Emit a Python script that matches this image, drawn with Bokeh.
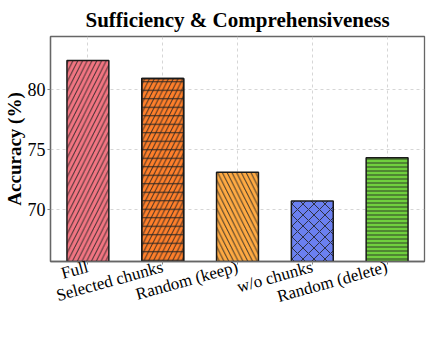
from bokeh.plotting import figure
from bokeh.models import ColumnDataSource, Range1d, FactorRange
from bokeh.embed import file_html
from bokeh.resources import INLINE

categories = ["Full", "Selected chunks", "Random (keep)", "w/o chunks", "Random (delete)"]
accuracy = [82.4, 80.9, 73.1, 70.7, 74.3]
colors = ["#F27582", "#FF7F2A", "#FFAA42", "#6B80F0", "#70CF3E"]
hatches = ["/", "/", "\\", "x", "-"]
hatch_scales = [9.5, 9.5, 9.5, 11, 4]
y_ticks = [70, 75, 80]

FONT = "Liberation Serif"

src = ColumnDataSource(dict(cat=categories, acc=accuracy, color=colors,
                            hatch=hatches, hscale=hatch_scales))
# extra horizontal-line overlay for "Selected chunks" (/ plus -)
src2 = ColumnDataSource(dict(cat=[categories[1]], acc=[accuracy[1]]))

p = figure(x_range=FactorRange(*categories, range_padding=0),
           y_range=Range1d(65.67, 84.4),
           width=428, height=337, output_backend="svg", toolbar_location=None,
           title="Sufficiency & Comprehensiveness",
           min_border_left=0, min_border_right=4, min_border_top=29, min_border_bottom=76)

p.vbar(x="cat", top="acc", bottom=60, width=0.56, source=src,
       fill_color="color", line_color="#1a1a1a", line_width=1.5,
       hatch_pattern="hatch", hatch_scale="hscale", hatch_color="#222222",
       hatch_alpha=0.85, hatch_weight=1)
p.vbar(x="cat", top="acc", bottom=60, width=0.56, source=src2,
       fill_color=None, line_color="#1a1a1a", line_width=1.5,
       hatch_pattern="-", hatch_scale=8.5, hatch_color="#222222",
       hatch_alpha=0.85, hatch_weight=1.2)

p.title.text_font = FONT
p.title.text_font_size = "21px"
p.title.text_font_style = "bold"
p.title.align = "center"
p.title.text_color = "#000000"

p.yaxis.ticker = y_ticks
p.yaxis.axis_label = "Accuracy (%)"
p.yaxis.axis_label_text_font = FONT
p.yaxis.axis_label_text_font_size = "19px"
p.yaxis.axis_label_text_font_style = "bold"
p.yaxis.axis_label_text_color = "#000000"
p.yaxis.axis_label_standoff = 0
for ax in (p.xaxis, p.yaxis):
    ax.major_label_text_font = FONT
    ax.major_label_text_font_size = "17px"
    ax.major_label_text_color = "#000000"
    ax.axis_line_color = "#666666"
    ax.axis_line_width = 1.3
    ax.major_tick_line_color = "#888888"
    ax.major_tick_in = 0
    ax.major_tick_out = 3
    ax.minor_tick_line_color = None
    ax.major_label_standoff = 2
p.yaxis.major_label_text_font_size = "18px"
p.xaxis.major_label_orientation = 0.27

p.outline_line_color = "#666666"
p.outline_line_width = 1.3
p.grid.grid_line_color = "#cccccc"
p.grid.grid_line_dash = "3 3"
p.grid.grid_line_width = 0.8

open("out.html", "w").write(file_html(p, INLINE))
